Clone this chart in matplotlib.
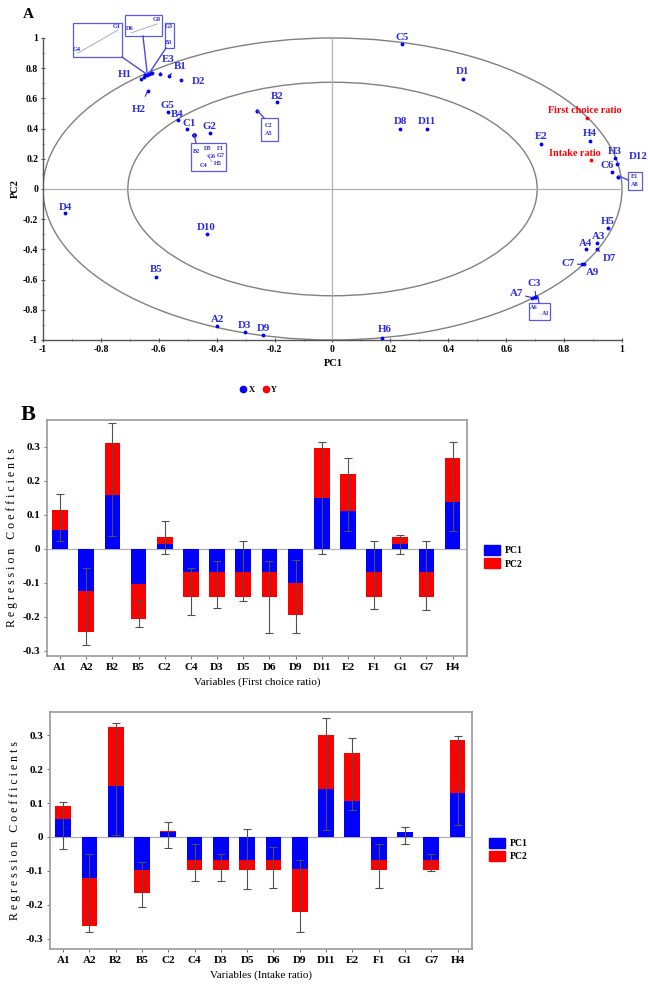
import matplotlib
matplotlib.use("Agg")
import matplotlib.pyplot as plt
from matplotlib.patches import Ellipse, Rectangle, Patch
from matplotlib.lines import Line2D
from matplotlib.ticker import FixedLocator, FuncFormatter

# ── Data: loadings (panel A) ────────────────────────────────────────────────
x_names = ["E3", "B1", "H1", "G1", "G4", "D6", "G8", "G3", "B3", "D2", "H2",
           "G5", "B4", "C1", "G2", "B6", "D5", "F1", "G6", "G7", "C4", "H5",
           "B2", "C2", "A5", "C5", "D1", "D8", "D11", "E2", "H4", "H3", "D12",
           "C6", "E1", "A8", "D4", "D10", "B5", "A2", "D3", "D9", "H6", "H5b",
           "A3", "A4", "D7", "C7", "A9", "C3", "A7", "A6", "A1"]
x_pc1 = [-0.597, -0.566, -0.660, -0.648, -0.652, -0.640, -0.634, -0.628, -0.625,
         -0.524, -0.638, -0.569, -0.535, -0.504, -0.424, -0.479, -0.478, -0.477,
         -0.479, -0.478, -0.480, -0.477, -0.190, -0.262, -0.262, 0.241, 0.450,
         0.234, 0.325, 0.720, 0.890, 0.976, 0.983, 0.966, 0.986, 0.986, -0.924,
         -0.435, -0.610, -0.400, -0.303, -0.240, 0.172, 0.950, 0.914, 0.875,
         0.914, 0.862, 0.870, 0.703, 0.690, 0.700, 0.701]
x_pc2 = [0.760, 0.750, 0.730, 0.752, 0.745, 0.756, 0.760, 0.765, 0.768, 0.720,
         0.650, 0.510, 0.457, 0.400, 0.370, 0.357, 0.358, 0.356, 0.357, 0.356,
         0.357, 0.358, 0.576, 0.517, 0.517, 0.960, 0.730, 0.400, 0.400, 0.300,
         0.320, 0.205, 0.165, 0.110, 0.080, 0.080, -0.160, -0.300, -0.580,
         -0.910, -0.950, -0.970, -0.985, -0.260, -0.360, -0.400, -0.400, -0.500,
         -0.500, -0.715, -0.720, -0.718, -0.717]
y_names = ["First choice ratio", "Intake ratio"]
y_pc1 = [0.879, 0.893]
y_pc2 = [0.470, 0.190]

# ── Data: regression coefficients (panel B) ─────────────────────────────────
categories = ["A1", "A2", "B2", "B5", "C2", "C4", "D3", "D5", "D6", "D9",
              "D11", "E2", "F1", "G1", "G7", "H4"]
fc_pc1 = [0.056, -0.124, 0.157, -0.102, 0.015, -0.069, -0.069, -0.069,
          -0.069, -0.099, 0.151, 0.111, -0.069, 0.013, -0.068, 0.137]
fc_pc2 = [0.059, -0.121, 0.154, -0.104, 0.019, -0.072, -0.072, -0.072,
          -0.072, -0.094, 0.147, 0.110, -0.072, 0.022, -0.074, 0.131]
fc_lo = [0.023, -0.284, 0.037, -0.230, -0.015, -0.193, -0.175, -0.152,
         -0.248, -0.248, -0.015, 0.052, -0.176, -0.014, -0.180, 0.053]
fc_hi = [0.160, -0.056, 0.370, -0.154, 0.083, -0.056, -0.036, 0.023,
         -0.036, -0.033, 0.315, 0.268, 0.023, 0.041, 0.023, 0.315]

in_pc1 = [0.054, -0.120, 0.149, -0.098, 0.016, -0.067, -0.067, -0.067,
          -0.067, -0.095, 0.143, 0.106, -0.067, 0.015, -0.067, 0.130]
in_pc2 = [0.036, -0.143, 0.175, -0.069, 0.001, -0.031, -0.031, -0.031,
          -0.031, -0.126, 0.157, 0.143, -0.031, 0.000, -0.031, 0.155]
in_lo = [-0.036, -0.282, 0.005, -0.208, -0.034, -0.131, -0.131, -0.154,
         -0.152, -0.282, 0.020, 0.079, -0.152, -0.022, -0.100, 0.034]
in_hi = [0.103, -0.049, 0.337, -0.074, 0.044, -0.020, -0.049, 0.022,
         -0.030, -0.067, 0.352, 0.293, -0.020, 0.030, -0.050, 0.298]

# ── Settings ────────────────────────────────────────────────────────────────
W, H = 648, 984
BLUE = "#0000ff"
RED = "#ff0000"
LBLUE = "#2a2ae0"
GRAY = "#808080"
plt.rcParams["font.family"] = ["Liberation Serif", "DejaVu Serif"]
plt.rcParams["font.weight"] = "bold"


def px_rect(x0, y0, x1, y1):
    return [x0 / W, 1 - y1 / H, (x1 - x0) / W, (y1 - y0) / H]


# panel A pixel <-> data mapping
AX0, AY0, SX, SY = 43, 340, 289.5, 151


def p2d(px, py):
    return (-1 + (px - AX0) / SX, -1 + (AY0 - py) / SY)


fig = plt.figure(figsize=(W / 100, H / 100), dpi=100)

# ── Panel A ─────────────────────────────────────────────────────────────────
axA = fig.add_axes(px_rect(AX0, AY0 - 2.18 * SY, AX0 + 2.08 * SX, AY0))
axA.set_xlim(-1, 1.08)
axA.set_ylim(-1, 1.18)
for s in ("top", "right"):
    axA.spines[s].set_visible(False)
for s in ("left", "bottom"):
    axA.spines[s].set_color("#555555")
    axA.spines[s].set_linewidth(1.0)
axA.spines["left"].set_bounds(-1, 1)
axA.spines["bottom"].set_bounds(-1, 1)
major = [t / 10 for t in range(-10, 11, 2)]
minor = [t / 10 for t in range(-9, 10, 2)]
fmt = FuncFormatter(lambda v, p: f"{v:g}" if abs(v) > 1e-9 else "0")
for axis in (axA.xaxis, axA.yaxis):
    axis.set_major_locator(FixedLocator(major))
    axis.set_minor_locator(FixedLocator(minor))
    axis.set_major_formatter(fmt)
axA.tick_params(which="major", length=3, width=0.8, color="#555555",
                labelsize=7, pad=2, direction="inout")
axA.tick_params(which="minor", length=2, width=0.6, color="#555555",
                direction="inout")

axA.add_patch(Ellipse((0, 0), 2, 2, fill=False, ec=GRAY, lw=1.0))
axA.add_patch(Ellipse((0, 0), 2 * 0.707, 2 * 0.707, fill=False, ec=GRAY, lw=1.0))
axA.plot([-1, 1.0], [0, 0], color="#b0b0b0", lw=0.9)
axA.plot([0, 0], [-1, 1.0], color="#b0b0b0", lw=0.9)

axA.scatter(x_pc1, x_pc2, s=3, color=BLUE, zorder=4)
axA.scatter(y_pc1, y_pc2, s=3, color=RED, zorder=4)

# label offsets in pixels (dx, dy), leader line flag
lab = {
    "E3": (8, -15, True), "B1": (12, -9, True), "H1": (-17, -4, True),
    "D2": (18, 1, True), "H2": (-9, 19, True), "G5": (0, -6, False),
    "B4": (0, -5, False), "C1": (3, -5, False), "G2": (0, -7, False),
    "B2": (0, -6, False), "C5": (0, -7, False), "D1": (0, -7, False),
    "D8": (0, -7, False), "D11": (0, -7, False), "E2": (0, -7, False),
    "H4": (0, -7, False), "H3": (0, -7, False), "D12": (21, -8, True),
    "C6": (-5, -7, False), "D4": (0, -6, False), "D10": (0, -7, False),
    "B5": (0, -7, False), "A2": (1, -7, False), "D3": (0, -7, False),
    "D9": (0, -7, False), "H6": (2, -8, False), "H5b": (0, -7, False),
    "A3": (1, -7, False), "A4": (0, -6, False), "D7": (12, 9, True),
    "C7": (-14, -1, True), "A9": (8, 8, True), "C3": (-2, -13, True),
    "A7": (-16, -4, True),
}
for name, xv, yv in zip(x_names, x_pc1, x_pc2):
    if name not in lab:
        continue
    dx, dy, lead = lab[name]
    txt = "H5" if name == "H5b" else name
    axA.annotate(txt, (xv, yv), xytext=(dx * 0.72, -dy * 0.72),
                 textcoords="offset points", ha="center", va="center",
                 fontsize=7.8, color=LBLUE, zorder=5,
                 arrowprops=dict(arrowstyle="-", color=LBLUE, lw=0.8,
                                 shrinkA=5, shrinkB=0) if lead else None)

y_off = [(-2, -8), (-16, -7)]
for name, xv, yv, (dx, dy) in zip(y_names, y_pc1, y_pc2, y_off):
    axA.annotate(name, (xv, yv), xytext=(dx * 0.72, -dy * 0.72),
                 textcoords="offset points", ha="center", va="center",
                 fontsize=7.3, color=RED, zorder=5)

# zoom insets around crowded points (pixel layout)
insets = [
    ((73, 23, 122, 57), [("G1", 117, 27), ("G4", 77, 50)],
     [((78, 53), (118, 30))], ((122, 57), (145, 73))),
    ((125, 15, 162, 36), [("D6", 130, 29), ("G8", 157, 20)],
     [((131, 33), (157, 24))], ((143, 36), (147, 72))),
    ((165, 23, 174, 48), [("G3", 169, 27), ("B3", 169, 43)],
     [], ((166, 48), (150, 72))),
    ((191, 143, 226, 171), [("B2", 197, 152), ("D5", 208, 149),
                            ("F1", 220, 149), ("G6", 212, 157),
                            ("G7", 221, 156), ("C4", 204, 166),
                            ("H5", 218, 164)],
     [((207, 155), (212, 162))], ((194, 134), (196, 143))),
    ((261, 118, 278, 141), [("C2", 269, 126), ("A5", 269, 134)],
     [], ((257, 110), (264, 118))),
    ((628, 172, 642, 190), [("E1", 635, 177), ("A8", 635, 185)],
     [], ((619, 176), (628, 180))),
    ((529, 303, 550, 320), [("A6", 534, 308), ("A1", 546, 314)],
     [], ((538, 297), (539, 303))),
]
for (bx0, by0, bx1, by1), texts, segs, lead in insets:
    x0, y1 = p2d(bx0, by0)
    x1, y0 = p2d(bx1, by1)
    axA.add_patch(Rectangle((x0, y0), x1 - x0, y1 - y0, fill=False,
                            ec="#5a5ae6", lw=0.9, zorder=5, clip_on=False))
    for t, tx, ty in texts:
        axA.text(*p2d(tx, ty), t, fontsize=4.5, color=LBLUE, ha="center",
                 va="center", zorder=6, clip_on=False)
    for (sx0, sy0), (sx1, sy1) in segs:
        a, b = p2d(sx0, sy0), p2d(sx1, sy1)
        axA.plot([a[0], b[0]], [a[1], b[1]], color="#9a9ad0", lw=0.6,
                 zorder=5, clip_on=False)
    (lx0, ly0), (lx1, ly1) = lead
    a, b = p2d(lx0, ly0), p2d(lx1, ly1)
    axA.plot([a[0], b[0]], [a[1], b[1]], color="#4a4ae0", lw=1.0, zorder=5,
             clip_on=False)

fig.text(28 / W, 1 - 14 / H, "A", fontsize=11, ha="center", va="center")
fig.text(333 / W, 1 - 364 / H, "PC1", fontsize=7.5, ha="center", va="center")
fig.text(15 / W, 1 - 189 / H, "PC2", fontsize=7.5, ha="center", va="center",
         rotation=90)

hA = [Line2D([], [], ls="none", marker="o", ms=4.5, color=BLUE, label="X"),
      Line2D([], [], ls="none", marker="o", ms=4.5, color=RED, label="Y")]
fig.legend(handles=hA, loc="center", bbox_to_anchor=(258 / W, 1 - 390 / H),
           ncol=2, frameon=False, fontsize=6, handletextpad=0.2,
           columnspacing=0.8, handlelength=1.0)

fig.text(28 / W, 1 - 415 / H, "B", fontsize=16, ha="center", va="center")


# ── Panel B ─────────────────────────────────────────────────────────────────
def bar_panel(rect, ylim, pc1, pc2, lo, hi, xlabel, leg_y):
    ax = fig.add_axes(px_rect(*rect))
    pos = list(range(len(categories)))
    ax.bar(pos, pc1, width=0.6, color=BLUE, lw=0, zorder=2)
    ax.bar(pos, pc2, width=0.6, bottom=pc1, color=RED, lw=0, zorder=2)
    mid = [(a + b) / 2 for a, b in zip(lo, hi)]
    half = [(b - a) / 2 for a, b in zip(lo, hi)]
    ax.errorbar(pos, mid, yerr=half, fmt="none", ecolor="#505050",
                elinewidth=0.8, capsize=2.8, capthick=0.8, zorder=3)
    ax.axhline(0, color="#b0b0b0", lw=0.9, zorder=1)
    ax.set_xlim(-0.5, len(categories) - 0.45)
    ax.set_ylim(*ylim)
    ax.set_xticks(pos)
    ax.set_xticklabels(categories)
    ax.set_yticks([-0.3, -0.2, -0.1, 0, 0.1, 0.2, 0.3])
    ax.yaxis.set_major_formatter(fmt)
    ax.tick_params(axis="x", labelsize=8, length=2, color="#777777", pad=3)
    ax.tick_params(axis="y", labelsize=8, length=2, color="#777777", pad=3)
    for s in ax.spines.values():
        s.set_color("#9a9a9a")
        s.set_linewidth(1.2)
    ax.set_xlabel(xlabel, fontsize=8, labelpad=4)
    ax.set_ylabel("R e g r e s s i o n   C o e f f i c i e n t s",
                  fontsize=8.5, labelpad=3)
    hB = [Patch(color=BLUE, label="PC1"), Patch(color=RED, label="PC2")]
    ax.legend(handles=hB, loc="center left",
              bbox_to_anchor=(1.02, leg_y), frameon=False, fontsize=7,
              handlelength=1.6, handleheight=1.2, handletextpad=0.5,
              labelspacing=0.3)
    return ax


bar_panel((47, 420, 467, 656), (-0.315, 0.379), fc_pc1, fc_pc2, fc_lo, fc_hi,
          "Variables (First choice ratio)", 0.42)
bar_panel((50, 712, 472, 949), (-0.331, 0.369), in_pc1, in_pc2, in_lo, in_hi,
          "Variables (Intake ratio)", 0.42)

fig.savefig("out.png", dpi=100, facecolor="white")
